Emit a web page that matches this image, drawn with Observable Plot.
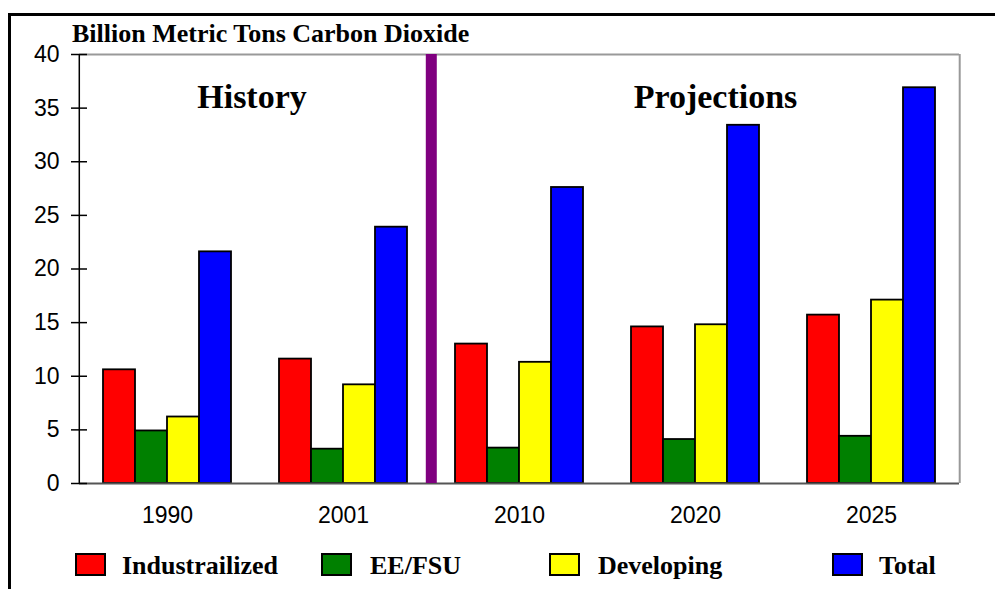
<!DOCTYPE html>
<html>
<head>
<meta charset="utf-8">
<script src="https://cdn.jsdelivr.net/npm/d3@7"></script>
<script src="https://cdn.jsdelivr.net/npm/@observablehq/plot@0.6"></script>
<style>
  html, body { margin: 0; padding: 0; background: white; overflow: hidden; }
  #wrap { position: relative; width: 995px; height: 589px; background: white; }
  #box { position: absolute; left: 8px; top: 13px; right: -10px; bottom: -10px;
         border-left: 3px solid #000; border-top: 3px solid #000; pointer-events: none; }
  #chart { position: absolute; left: 0; top: 0; }
  #title { position: absolute; left: 72px; top: 21px; font: bold 26px "Liberation Serif", "Times New Roman", serif;
           line-height: 26px; white-space: nowrap; color: #000; }
  .sw { position: absolute; top: 553px; width: 31px; height: 23px; border: 2px solid #000; box-sizing: border-box; }
  .lt { position: absolute; top: 553px; font: bold 26px "Liberation Serif", "Times New Roman", serif; line-height: 26px;
        white-space: nowrap; color: #000; }
</style>
</head>
<body>
<div id="wrap">
  <div id="chart"></div>
  <div id="title"></div>
  <div id="legend"></div>
  <div id="box"></div>
</div>
<script>
const years = ["1990", "2001", "2010", "2020", "2025"];
const series = ["Industrailized", "EE/FSU", "Developing", "Total"];
const industrialized = [10.6, 11.6, 13.0, 14.6, 15.7];
const eeFsu = [4.9, 3.2, 3.3, 4.1, 4.4];
const developing = [6.2, 9.2, 11.3, 14.8, 17.1];
const total = [21.6, 23.9, 27.6, 33.4, 36.9];
const seriesColors = ["#FF0000", "#008000", "#FFFF00", "#0000FF"];
const yTicks = [0, 5, 10, 15, 20, 25, 30, 35, 40];
const titleText = "Billion Metric Tons Carbon Dioxide";
const periodLabels = ["History", "Projections"];
const periodYears = ["1990", "2020"];
const periodLabelY = 36;
const dividerYear = "2010";

// layout (not data)
const legendSwatchX = [75, 321, 549, 832];
const legendTextX = [122, 370, 598, 879];

const valuesBySeries = [industrialized, eeFsu, developing, total];
const rows = [];
years.forEach((yr, i) => series.forEach((s, j) => rows.push({year: yr, series: s, value: valuesBySeries[j][i]})));

const W = 995, H = 589, ML = 77, MR = 33.5, MT = 54, MB = 106;
const facetW = (W - ML - MR) / years.length;
const innerStep = facetW / (series.length + 1.5);
const firstCenter = 0.75 * innerStep + innerStep / 2;
const serif = "'Liberation Serif', 'Times New Roman', serif";

const chart = Plot.plot({
  width: W,
  height: H,
  marginLeft: ML,
  marginRight: MR,
  marginTop: MT,
  marginBottom: MB,
  style: {fontFamily: "'Liberation Sans', Arial, sans-serif", fontSize: "23px", background: "white", color: "#000", overflow: "visible"},
  fx: {domain: years, padding: 0, label: null, axis: "bottom", tickSize: 0, tickPadding: 23},
  x: {domain: series, paddingInner: 0, paddingOuter: 0.75, axis: null},
  y: {domain: [0, 40], axis: null},
  color: {domain: series, range: seriesColors},
  marks: [
    Plot.ruleY([40], {stroke: "#999", strokeWidth: 2}),
    Plot.barY(rows, {fx: "year", x: "series", y: "value", fill: "series", stroke: "#000", strokeWidth: 1.8}),
    Plot.ruleY([0], {stroke: "#555", strokeWidth: 2}),
    Plot.ruleX([{year: years[years.length - 1], s: series[series.length - 1]}], {fx: "year", x: "s", dx: firstCenter, y1: 0, y2: 40, stroke: "#999", strokeWidth: 2}),
    Plot.ruleX([{year: dividerYear, s: series[0]}], {fx: "year", x: "s", dx: -firstCenter, y1: 0, y2: 40, stroke: "#800080", strokeWidth: 11}),
    Plot.ruleX([{year: years[0], s: series[0]}], {fx: "year", x: "s", dx: -firstCenter, y1: 0, y2: 40, stroke: "#000", strokeWidth: 1.5}),
    Plot.axisY({ticks: yTicks, tickSize: 16, dx: 8, tickPadding: 12, tickFormat: d => String(d), stroke: "#000", strokeWidth: 1.5, fill: "#000"}),
    Plot.text([{year: periodYears[0], t: periodLabels[0], y: periodLabelY}], {fx: "year", y: "y", text: "t", dx: 84.5, fontFamily: serif, fontWeight: "bold", fontSize: 34, fill: "#000"}),
    Plot.text([{year: periodYears[1], t: periodLabels[1], y: periodLabelY}], {fx: "year", y: "y", text: "t", dx: 20, fontFamily: serif, fontWeight: "bold", fontSize: 34, fill: "#000"})
  ]
});
document.getElementById("chart").appendChild(chart);
document.getElementById("title").textContent = titleText;

const legend = document.getElementById("legend");
series.forEach((s, i) => {
  const sw = document.createElement("div");
  sw.className = "sw";
  sw.style.left = legendSwatchX[i] + "px";
  sw.style.background = seriesColors[i];
  legend.appendChild(sw);
  const t = document.createElement("div");
  t.className = "lt";
  t.style.left = legendTextX[i] + "px";
  t.textContent = s;
  legend.appendChild(t);
});
</script>
</body>
</html>
